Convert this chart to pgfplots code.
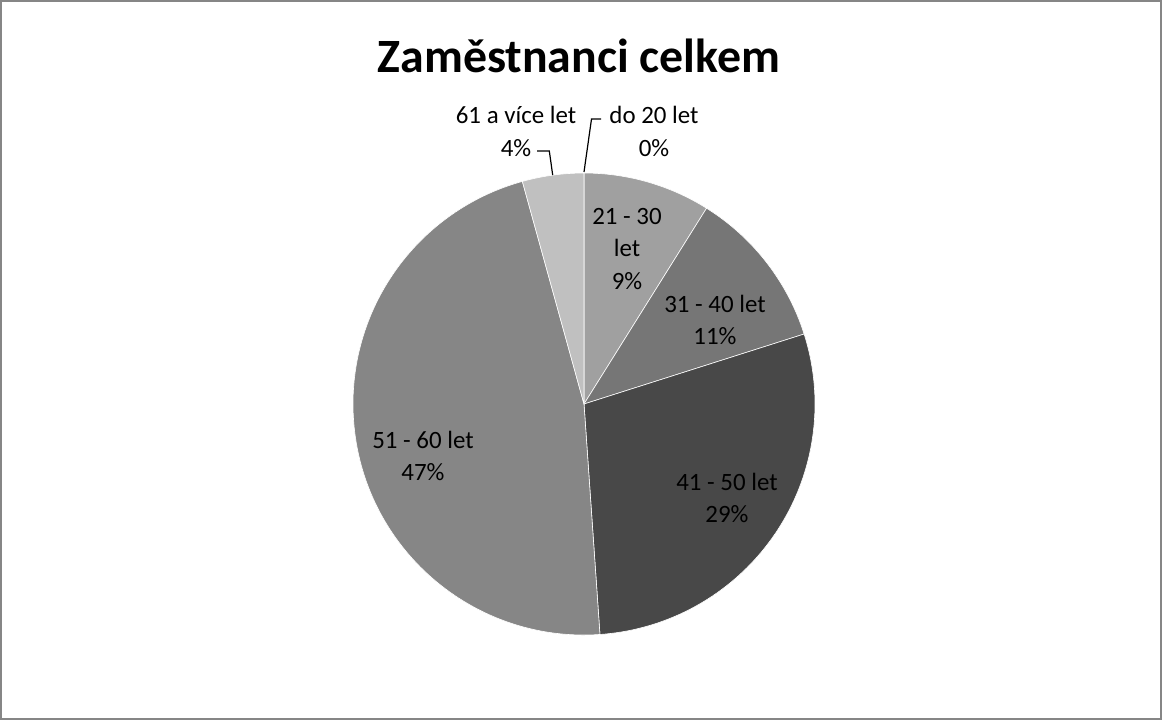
\documentclass[border=0pt]{standalone}
\usepackage{pgfplots}
\pgfplotsset{compat=1.18}
\usepackage{fontspec}
\setmainfont{Carlito}

% slice colours
\definecolor{s1}{RGB}{160,160,160}
\definecolor{s2}{RGB}{118,118,118}
\definecolor{s3}{RGB}{72,72,72}
\definecolor{s4}{RGB}{134,134,134}
\definecolor{s5}{RGB}{192,192,192}
\definecolor{frame}{RGB}{134,134,134}

% pie centre (pixels) and radius
\def\cx{584}
\def\cy{404}
\def\R{115.5bp}
\gdef\cum{0}
% \slice{share in %}{colour}
\newcommand\slice[2]{%
  \pgfmathsetmacro\a{90-3.6*\cum}%
  \pgfmathsetmacro\b{90-3.6*(\cum+#1)}%
  \edef\tmp{\noexpand\fill[#2, draw=white, line width=0.3pt]
    (axis cs:\cx,\cy) -- ++(\a:\R) arc[start angle=\a, end angle=\b, radius=\R] -- cycle;}%
  \tmp
  \pgfmathsetmacro\c{\cum+#1}%
  \global\let\cum\c
}

\begin{document}
\begin{tikzpicture}
\begin{axis}[
    at={(0,0)}, anchor=south west,
    scale only axis,
    width=581bp, height=360bp,
    xmin=0, xmax=1162, ymin=0, ymax=720,
    y dir=reverse,
    hide axis, clip=false,
]
% Anteil der Altersgruppen (%), im Uhrzeigersinn ab 12 Uhr
\slice{0}{s1}     % do 20 let
\slice{8.9}{s1}   % 21 - 30 let
\slice{11.2}{s2}  % 31 - 40 let
\slice{28.8}{s3}  % 41 - 50 let
\slice{46.8}{s4}  % 51 - 60 let
\slice{4.3}{s5}   % 61 a vice let

% Rahmen
\draw[frame, line width=1bp] (axis cs:1,1) rectangle (axis cs:1161,719);

% Titel
\node[font=\fontsize{24}{28}\selectfont\bfseries] at (axis cs:579,56) {Zaměstnanci celkem};

% Beschriftungen
\tikzset{lab/.style={align=center, font=\fontsize{12.5}{16.5}\selectfont, inner sep=0pt}}
\node[lab] at (axis cs:516,131) {61 a více let\\4\%};
\node[lab] at (axis cs:654,131) {do 20 let\\0\%};
\node[lab] at (axis cs:627,249) {21 - 30\\let\\9\%};
\node[lab] at (axis cs:715,320) {31 - 40 let\\11\%};
\node[lab] at (axis cs:727,498) {41 - 50 let\\29\%};
\node[lab] at (axis cs:423,456) {51 - 60 let\\47\%};

% Fuehrungslinien
\draw[black, line width=0.6bp] (axis cs:584,172) -- (axis cs:591.5,119) -- (axis cs:601,119);
\draw[black, line width=0.6bp] (axis cs:552.7,175) -- (axis cs:549.3,151) -- (axis cs:537,151);
\end{axis}
\pgfresetboundingbox
\path[use as bounding box] (0,0) rectangle (581bp,360bp);
\end{tikzpicture}
\end{document}
